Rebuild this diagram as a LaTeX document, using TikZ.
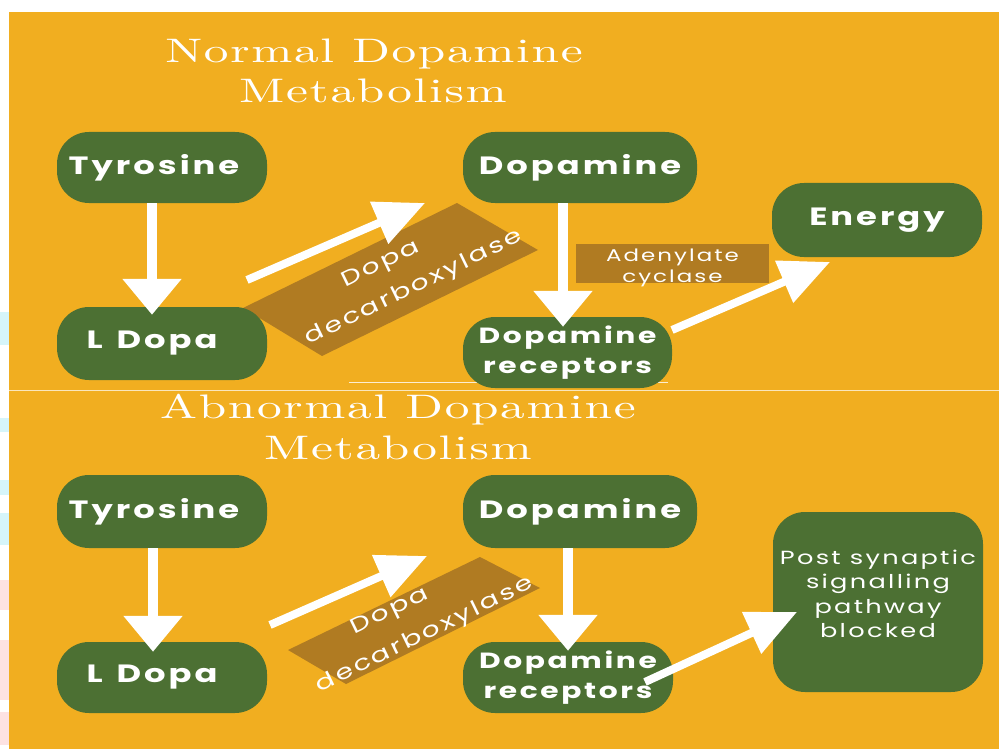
\documentclass[tikz,border=0pt]{standalone}
\usepackage{fontspec}
\usetikzlibrary{arrows.meta}
\newfontfamily\boxfont{Poppins}[FakeStretch=1.35, LetterSpace=12]
\newfontfamily\titlefont{lmroman10-regular.otf}[FakeStretch=1.45, LetterSpace=5]
\definecolor{bgorange}{RGB}{241,174,32}
\definecolor{boxgreen}{RGB}{76,112,51}
\definecolor{enzbrown}{RGB}{176,123,34}
\definecolor{edgecyan}{RGB}{214,245,250}
\definecolor{edgepink}{RGB}{253,226,226}
\tikzset{
  gbox/.style={fill=boxgreen, rounded corners=32pt, text=white, align=center, inner sep=0pt},
  gbold/.style={gbox, font={\boxfont\bfseries\fontsize{25}{30}\selectfont}},
  gtwo/.style={gbox, font={\boxfont\bfseries\fontsize{22}{30}\selectfont}},
  plainlbl/.style={text=white, align=center, inner sep=0pt, font={\boxfont\fontsize{19}{24.5}\selectfont}},
  enzbox/.style={fill=enzbrown},
  enztext/.style={text=white, inner sep=0pt, rotate=26, font={\boxfont\fontsize{21}{26}\selectfont}},
  titletext/.style={text=white, anchor=base, inner sep=0pt, font={\titlefont\fontsize{34}{40}\selectfont}},
  vtarrow/.style={draw=white, line width=10pt, -{Triangle[width=57pt,length=36pt]}},
  dgarrow/.style={draw=white, line width=8pt, -{Triangle[width=44pt,length=50pt]}},
}
\begin{document}
\begin{tikzpicture}[x=1pt,y=-1pt]
\useasboundingbox (0,0) rectangle (999,749);
% background
\fill[white] (0,0) rectangle (999,749);
\fill[bgorange] (9,12) rectangle (999,749);
\fill[edgecyan] (0,312) rectangle (9,345);
\fill[edgecyan] (0,418) rectangle (9,432);
\fill[edgecyan] (0,480) rectangle (9,495);
\fill[edgecyan] (0,513) rectangle (9,545);
\fill[edgepink] (0,580) rectangle (9,610);
\fill[edgepink] (0,640) rectangle (9,700);
\fill[edgepink] (0,712) rectangle (9,745);

% titles
\node[titletext] (t1a) at (374,63) {Normal Dopamine};
\node[titletext] (t1b) at (373,103) {Metabolism};
\node[titletext] (t2a) at (398,418) {Abnormal Dopamine};
\node[titletext] (t2b) at (398,459) {Metabolism};

% separator lines
\draw[white, opacity=0.7, line width=1pt] (0,390) -- (999,390);
\draw[white, opacity=0.8, line width=1pt] (349,382) -- (668,382);

% enzyme labels (behind boxes)
\fill[enzbox] (243,308) -- (457,203) -- (538,250) -- (322,356) -- cycle;
\fill[enzbox] (288,650) -- (480,557) -- (540,588) -- (346,684) -- cycle;
\fill[enzbox] (576,244) rectangle (769,283);
\node[enztext] (dd1a) at (381,265) {Dopa};
\node[enztext] (dd1b) at (414,288) {decarboxylase};
\node[enztext] (dd2a) at (390,612) {Dopa};
\node[enztext] (dd2b) at (425,635) {decarboxylase};
\node[text=white, align=center, inner sep=0pt, font={\boxfont\fontsize{17}{21}\selectfont}] (aden) at (672.5,268) {Adenylate\\cyclase};

% top boxes
\node[gbold, minimum width=210pt, minimum height=71pt] (tyr1) at (162,167.5) {Tyrosine\hspace*{16pt}};
\node[gbold, minimum width=210pt, minimum height=73pt] (ldopa1) at (162,343.5) {L\hspace{14pt}Dopa\hspace*{20pt}};
\node[gbold, minimum width=234pt, minimum height=71pt] (dop1) at (580,167.5) {Dopamine};
\node[gtwo, minimum width=209pt, minimum height=71pt] (rec1) at (567.5,352.5) {Dopamine\\receptors};
\node[gbold, minimum width=210pt, minimum height=74pt] (energy) at (877,220) {Energy};

% bottom boxes
\node[gbold, minimum width=210pt, minimum height=73pt] (tyr2) at (162,511.5) {Tyrosine\hspace*{16pt}};
\node[gbold, minimum width=210pt, minimum height=71pt] (ldopa2) at (162,677.5) {L\hspace{14pt}Dopa\hspace*{20pt}};
\node[gbold, minimum width=234pt, minimum height=73pt] (dop2) at (580,511.5) {Dopamine};
\node[gtwo, minimum width=210pt, minimum height=71pt] (rec2) at (568,677.5) {Dopamine\\receptors};
\node[gbox, minimum width=210pt, minimum height=180pt] (post) at (878,602) {};
\node[plainlbl] (postlbl) at (878,594) {Post synaptic\\signalling\\pathway\\blocked};

% free ends of diagonal arrows
\coordinate (d1s) at (247,280);
\coordinate (d1e) at (425,203);
\coordinate (d2s) at (270,625);
\coordinate (d2e) at (427,556);
\coordinate (e1s) at (672,330);
\coordinate (e1e) at (830,262);
\coordinate (e2s) at (645,682);
\coordinate (e2e) at (797,612);

% arrows
\draw[vtarrow, shorten >=-8pt] ([xshift=-10pt]tyr1.south) -- ([xshift=-10pt]ldopa1.north);
\draw[vtarrow, shorten >=-10pt] ([xshift=-4.5pt]rec1.north |- dop1.south) -- ([xshift=-4.5pt]rec1.north);
\draw[vtarrow, shorten >=-10pt] ([xshift=-9pt]tyr2.south) -- ([xshift=-9pt]ldopa2.north);
\draw[vtarrow, shorten >=-9pt] (rec2.north |- dop2.south) -- (rec2.north);
\draw[dgarrow] (d1s) -- (d1e);
\draw[dgarrow] (d2s) -- (d2e);
\draw[dgarrow] (e1s) -- (e1e);
\draw[dgarrow] (e2s) -- (e2e);
\end{tikzpicture}
\end{document}
